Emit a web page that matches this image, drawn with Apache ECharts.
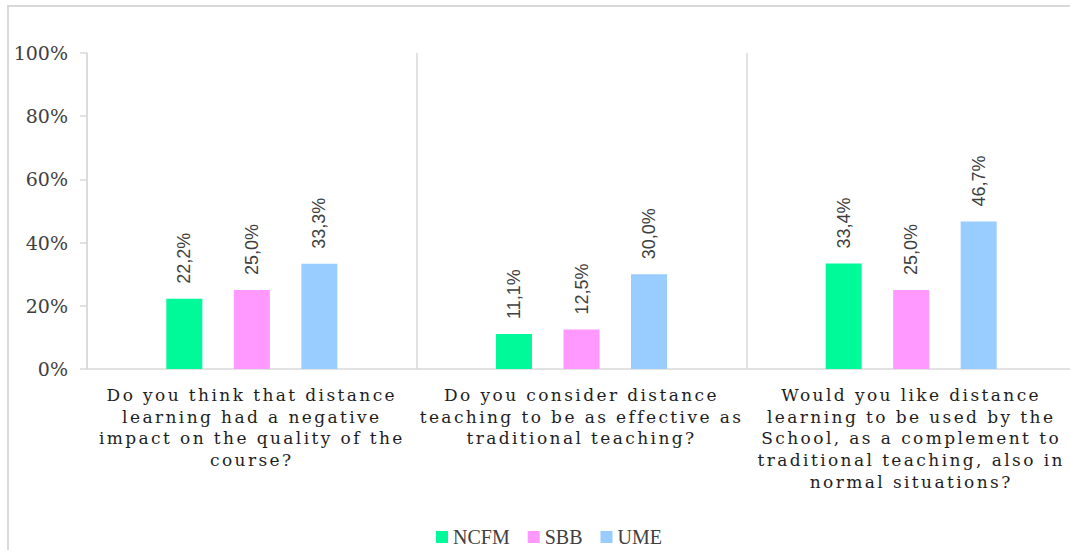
<!DOCTYPE html>
<html>
<head>
<meta charset="utf-8">
<script src="https://cdn.jsdelivr.net/npm/echarts@6/dist/echarts.min.js"></script>
<style>
  html, body { margin: 0; padding: 0; background: #fff; }
  #chart { width: 1070px; height: 550px; }
  /* the question labels are letter-spaced in the original */
  #chart text[style*="DejaVu Serif"][style*="Liberation Serif"] { letter-spacing: 2.4px; }
</style>
</head>
<body>
<div id="chart"></div>
<script>
// questions (x categories), already broken into the lines used in the picture
var categories = [
  'Do you think that distance\nlearning had a negative\nimpact on the quality of the\ncourse?',
  'Do you consider distance\nteaching to be as effective as\ntraditional teaching?',
  'Would you like distance\nlearning to be used by the\nSchool, as a complement to\ntraditional teaching, also in\nnormal situations?'
];
var seriesNames = ['NCFM', 'SBB', 'UME'];
var ncfm = [22.2, 11.1, 33.4];
var sbb = [25.0, 12.5, 25.0];
var ume = [33.3, 30.0, 46.7];
var yTicks = [0, 20, 40, 60, 80, 100];

var colors = ['#00FA9A', '#FF99FF', '#99CCFF'];
var lineGray = '#d9d9d9';
var textGray = '#404040';

var chart = echarts.init(document.getElementById('chart'), null, { renderer: 'svg' });

function barSeries(name, data) {
  return {
    name: name,
    type: 'bar',
    data: data,
    barWidth: 36,
    barGap: '87.5%',
    label: {
      show: true,
      position: 'top',
      rotate: 90,
      align: 'left',
      verticalAlign: 'middle',
      distance: 15,
      color: textGray,
      fontFamily: 'Liberation Sans',
      fontSize: 18,
      // comma as decimal separator, like the original
      formatter: function (p) { return p.value.toFixed(1).replace('.', ',') + '%'; }
    }
  };
}

var option = {
  animation: false,
  backgroundColor: '#fff',
  color: colors,
  graphic: [{
    type: 'rect',
    shape: { x: 8, y: 6, width: 1300, height: 800 },
    style: { fill: 'none', stroke: lineGray, lineWidth: 2 },
    silent: true
  }],
  legend: {
    data: seriesNames,
    top: 522,
    left: 431,
    icon: 'rect',
    itemWidth: 12,
    itemHeight: 12,
    itemGap: 18,
    textStyle: { color: textGray, fontFamily: 'Liberation Serif', fontSize: 20 }
  },
  grid: { left: 87, top: 53, width: 989, height: 316, outerBoundsMode: 'none' },
  xAxis: {
    type: 'category',
    data: categories,
    axisLine: { lineStyle: { color: lineGray, width: 1.5 } },
    axisTick: { show: false },
    splitLine: { show: true, interval: 0, lineStyle: { color: lineGray, width: 1.5 } },
    axisLabel: {
      interval: 0,
      margin: 15,
      color: '#1e1e1e',
      fontFamily: 'DejaVu Serif, Liberation Serif',
      fontSize: 17,
      lineHeight: 21.7
    }
  },
  yAxis: {
    type: 'value',
    min: yTicks[0],
    max: yTicks[yTicks.length - 1],
    interval: 20,
    axisLine: { show: true, lineStyle: { color: lineGray, width: 1.5 } },
    axisTick: { show: true, length: 7, lineStyle: { color: lineGray, width: 1.5 } },
    splitLine: { show: false },
    axisLabel: {
      margin: 19,
      color: textGray,
      fontFamily: 'DejaVu Serif',
      fontSize: 19,
      formatter: '{value}%'
    }
  },
  series: [
    barSeries(seriesNames[0], ncfm),
    barSeries(seriesNames[1], sbb),
    barSeries(seriesNames[2], ume)
  ]
};

chart.setOption(option);
</script>
</body>
</html>
